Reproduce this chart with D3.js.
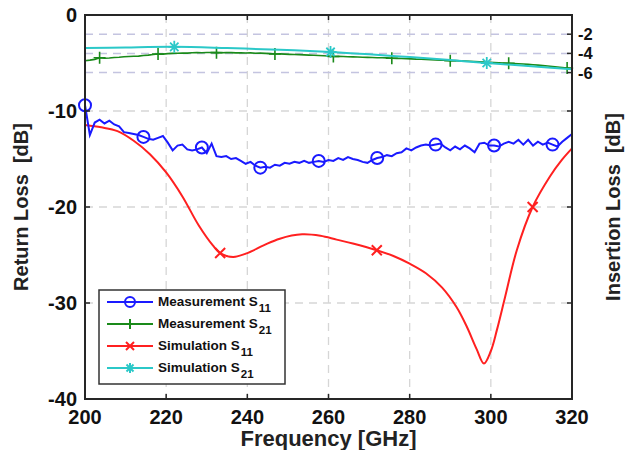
<!DOCTYPE html>
<html><head><meta charset="utf-8">
<script src="https://cdn.jsdelivr.net/npm/d3@7"></script>
<style>body{margin:0;background:#fff}svg{display:block;font-family:"Liberation Sans",Arial,sans-serif}</style>
</head><body>
<script>
// ---- data ----
const xTicks = [200, 220, 240, 260, 280, 300, 320];
const yTicksLeft = [0, -10, -20, -30, -40];
const yTicksRight = [-2, -4, -6];
const measStart = 200, measStep = 1.2;
const measS11 = [-9.4,-12.5,-11.2,-10.9,-11.3,-11.0,-11.4,-11.6,-12.2,-12.3,-12.4,-12.5,-12.7,-12.9,-13.0,-12.8,-12.6,-13.3,-14.1,-13.6,
 -13.5,-14.0,-14.1,-14.0,-13.8,-14.4,-13.4,-14.7,-14.8,-14.7,-15.0,-14.9,-15.2,-15.5,-15.3,-15.7,-15.9,-15.8,-15.9,-15.6,
 -15.7,-15.4,-15.5,-15.3,-15.4,-15.2,-15.4,-15.3,-15.2,-15.3,-15.1,-15.2,-14.9,-15.1,-14.8,-15.0,-15.1,-15.3,-15.4,-15.1,
 -14.9,-14.8,-14.6,-14.7,-14.4,-14.3,-13.9,-14.1,-13.8,-13.6,-13.5,-13.6,-13.5,-13.4,-13.8,-14.1,-13.7,-14.0,-13.6,-13.9,
 -14.3,-13.4,-13.3,-13.6,-13.6,-13.7,-13.4,-13.2,-13.4,-13.0,-13.5,-13.0,-13.6,-13.2,-13.5,-13.3,-13.5,-13.7,-13.2,-12.8,-12.4];
const measS21 = [-4.76,-4.70,-4.62,-4.45,-4.50,-4.48,-4.42,-4.40,-4.35,-4.33,-4.30,-4.28,-4.22,-4.18,-4.12,-4.06,-4.08,-4.02,-4.00,-3.98,
 -3.96,-3.97,-3.94,-3.92,-3.93,-3.91,-3.90,-3.92,-3.93,-3.90,-3.92,-3.95,-3.94,-3.96,-3.95,-3.98,-3.97,-4.00,-4.02,-4.06,
 -4.05,-4.08,-4.10,-4.12,-4.13,-4.15,-4.18,-4.20,-4.22,-4.24,-4.27,-4.32,-4.30,-4.33,-4.35,-4.36,-4.38,-4.40,-4.41,-4.43,
 -4.45,-4.46,-4.47,-4.50,-4.52,-4.53,-4.55,-4.57,-4.60,-4.61,-4.63,-4.66,-4.68,-4.70,-4.72,-4.76,-4.75,-4.78,-4.80,-4.82,
 -4.85,-4.87,-4.90,-4.92,-4.95,-4.97,-5.00,-5.03,-5.05,-5.08,-5.10,-5.14,-5.18,-5.22,-5.27,-5.32,-5.36,-5.42,-5.47,-5.53,-5.60];
const simS11Freq = [200,204,208,212,216,220,224,228,231.5,233.3,236.5,240,244,248,253.5,258,262,266,271.9,276,280,284,288,291.5,294,296.5,298.3,300,301.5,303.5,306.4,310.3,314.6,317.5,320];
const simS11 = [-11.45,-11.7,-12.1,-13.1,-14.5,-16.4,-18.9,-21.9,-24.0,-24.8,-25.2,-24.8,-24.0,-23.3,-22.85,-23.0,-23.4,-23.8,-24.5,-25.1,-25.9,-26.9,-28.4,-30.4,-32.4,-34.8,-36.3,-35.0,-32.8,-29.4,-24.5,-20.0,-16.8,-15.1,-13.9];
const simS11Markers = [233.3, 271.9, 310.3];
const simS21Freq = [200,210,222,235,248,260.5,270,280,290,299,310,320];
const simS21 = [-3.45,-3.38,-3.32,-3.45,-3.62,-3.85,-4.1,-4.38,-4.7,-5.0,-5.33,-5.65];
const simS21Markers = [222, 260.5, 299];
const legendLabels = [["Measurement S","11"],["Measurement S","21"],["Simulation S","11"],["Simulation S","21"]];

// ---- chart ----
const W = 626, H = 450;
const L = 85, R = 572, T = 15, B = 399;
const svg = d3.select("body").append("svg").attr("width", W).attr("height", H);
const x = d3.scaleLinear().domain([200, 320]).range([L, R]);
const y = d3.scaleLinear().domain([-40, 0]).range([B, T]);

const grid = svg.append("g");
grid.selectAll(".gx").data(xTicks.slice(1, -1)).join("line")
  .attr("x1", d => x(d)).attr("x2", d => x(d)).attr("y1", T).attr("y2", B)
  .attr("stroke", "#d6d6d6").attr("stroke-width", 1.3).attr("stroke-dasharray", "8,6");
grid.selectAll(".gy").data(yTicksLeft.slice(1, -1)).join("line")
  .attr("y1", d => y(d)).attr("y2", d => y(d)).attr("x1", L).attr("x2", R)
  .attr("stroke", "#d6d6d6").attr("stroke-width", 1.3).attr("stroke-dasharray", "8,6");
grid.selectAll(".gr").data(yTicksRight).join("line")
  .attr("y1", d => y(d)).attr("y2", d => y(d)).attr("x1", L).attr("x2", R)
  .attr("stroke", "#c4c4e0").attr("stroke-width", 1.5).attr("stroke-dasharray", "8,6");

const measIdx = measS11.map((_, i) => i);
const fm = i => measStart + measStep * i;

function markerPath(type, s) {
  if (type === "o") return d3.symbol(d3.symbolCircle, Math.PI * s * s)();
  if (type === "+") return `M${-s},0L${s},0M0,${-s}L0,${s}`;
  if (type === "x") return `M${-s},${-s}L${s},${s}M${-s},${s}L${s},${-s}`;
  if (type === "*") return `M${-s},0L${s},0M0,${-s}L0,${s}M${-s*0.7},${-s*0.7}L${s*0.7},${s*0.7}M${-s*0.7},${s*0.7}L${s*0.7},${-s*0.7}`;
}

const plot = svg.append("g");
const lineGen = d3.line().x(d => x(d[0])).y(d => y(d[1]));
const smooth = d3.line().x(d => x(d[0])).y(d => y(d[1])).curve(d3.curveCatmullRom.alpha(0.5));

// measured S21 (green)
plot.append("path").datum(measIdx.map(i => [fm(i), measS21[i]])).attr("d", lineGen)
  .attr("fill", "none").attr("stroke", "#1a8a1a").attr("stroke-width", 1.6);
plot.selectAll(".mg").data(measIdx.filter(i => i % 12 === 3)).join("path")
  .attr("transform", i => `translate(${x(fm(i))},${y(measS21[i])})`).attr("d", markerPath("+", 6))
  .attr("fill", "none").attr("stroke", "#1a8a1a").attr("stroke-width", 1.6);

// sim S21 (cyan)
plot.append("path").datum(simS21Freq.map((f, i) => [f, simS21[i]])).attr("d", smooth)
  .attr("fill", "none").attr("stroke", "#2bc8c8").attr("stroke-width", 2);
plot.selectAll(".sc").data(simS21Markers).join("path")
  .attr("transform", f => `translate(${x(f)},${y(simS21[simS21Freq.indexOf(f)])})`).attr("d", markerPath("*", 6))
  .attr("fill", "none").attr("stroke", "#2bc8c8").attr("stroke-width", 1.8);

// sim S11 (red)
plot.append("path").datum(simS11Freq.map((f, i) => [f, simS11[i]])).attr("d", smooth)
  .attr("fill", "none").attr("stroke", "#ff2020").attr("stroke-width", 2);
plot.selectAll(".sr").data(simS11Markers).join("path")
  .attr("transform", f => `translate(${x(f)},${y(simS11[simS11Freq.indexOf(f)])})`).attr("d", markerPath("x", 5))
  .attr("fill", "none").attr("stroke", "#ff2020").attr("stroke-width", 2);

// measured S11 (blue)
plot.append("path").datum(measIdx.map(i => [fm(i), measS11[i]])).attr("d", lineGen)
  .attr("fill", "none").attr("stroke", "#1a1aff").attr("stroke-width", 2);
plot.selectAll(".mb").data(measIdx.filter(i => i % 12 === 0)).join("path")
  .attr("transform", i => `translate(${x(fm(i))},${y(measS11[i])})`).attr("d", markerPath("o", 6))
  .attr("fill", "none").attr("stroke", "#1a1aff").attr("stroke-width", 2);

// axes box
svg.append("rect").attr("x", L).attr("y", T).attr("width", R - L).attr("height", B - T)
  .attr("fill", "none").attr("stroke", "#262626").attr("stroke-width", 2);

const tk = 5;
const axes = svg.append("g").attr("stroke", "#262626").attr("stroke-width", 1.5);
xTicks.forEach(d => {
  axes.append("line").attr("x1", x(d)).attr("x2", x(d)).attr("y1", B).attr("y2", B - tk);
  axes.append("line").attr("x1", x(d)).attr("x2", x(d)).attr("y1", T).attr("y2", T + tk);
});
yTicksLeft.forEach(d => {
  axes.append("line").attr("x1", L).attr("x2", L + tk).attr("y1", y(d)).attr("y2", y(d));
  axes.append("line").attr("x1", R).attr("x2", R - tk).attr("y1", y(d)).attr("y2", y(d));
});
yTicksRight.forEach(d => {
  axes.append("line").attr("x1", R).attr("x2", R - tk).attr("y1", y(d)).attr("y2", y(d));
});

const lab = svg.append("g").attr("font-weight", "bold").attr("fill", "#111");
lab.selectAll(".xl").data(xTicks).join("text")
  .attr("x", d => x(d)).attr("y", B + 25).attr("text-anchor", "middle").attr("font-size", 20).text(d => d);
lab.selectAll(".yl").data(yTicksLeft).join("text")
  .attr("x", L - 8).attr("y", d => y(d) + 7).attr("text-anchor", "end").attr("font-size", 20).text(d => d);
lab.selectAll(".yr").data(yTicksRight).join("text")
  .attr("x", R + 6).attr("y", d => y(d) + 6).attr("text-anchor", "start").attr("font-size", 16.5).text(d => d);

lab.append("text").attr("x", (L + R) / 2).attr("y", 446).attr("text-anchor", "middle")
  .attr("font-size", 22).attr("fill", "#222").text("Frequency [GHz]");
lab.append("text").attr("transform", `translate(28,${(T + B) / 2}) rotate(-90)`).attr("text-anchor", "middle")
  .attr("font-size", 20).attr("fill", "#222").attr("xml:space", "preserve").text("Return Loss  [dB]");
lab.append("text").attr("transform", `translate(620,${(T + B) / 2}) rotate(-90)`).attr("text-anchor", "middle")
  .attr("font-size", 20).attr("fill", "#222").attr("xml:space", "preserve").text("Insertion Loss  [dB]");

// legend
const lg = svg.append("g");
lg.append("rect").attr("x", 99).attr("y", 290).attr("width", 186).attr("height", 94)
  .attr("fill", "#fff").attr("stroke", "#333").attr("stroke-width", 1.5);
const legendStyle = [["#1a1aff", "o", 5], ["#1a8a1a", "+", 5], ["#ff2020", "x", 4], ["#2bc8c8", "*", 5]];
legendLabels.forEach((lbl, i) => {
  const yy = 302 + i * 22;
  const [c, m, s] = legendStyle[i];
  lg.append("line").attr("x1", 107).attr("x2", 153).attr("y1", yy).attr("y2", yy).attr("stroke", c).attr("stroke-width", 2);
  lg.append("path").attr("transform", `translate(130,${yy})`).attr("d", markerPath(m, s))
    .attr("fill", "none").attr("stroke", c).attr("stroke-width", 2);
  const t = lg.append("text").attr("x", 158).attr("y", yy + 4).attr("font-size", 13.5).attr("font-weight", "bold").attr("fill", "#111");
  t.append("tspan").text(lbl[0]);
  t.append("tspan").attr("dy", 6).attr("dx", 1).attr("font-size", 11.5).text(lbl[1]);
});
</script>
</body></html>
